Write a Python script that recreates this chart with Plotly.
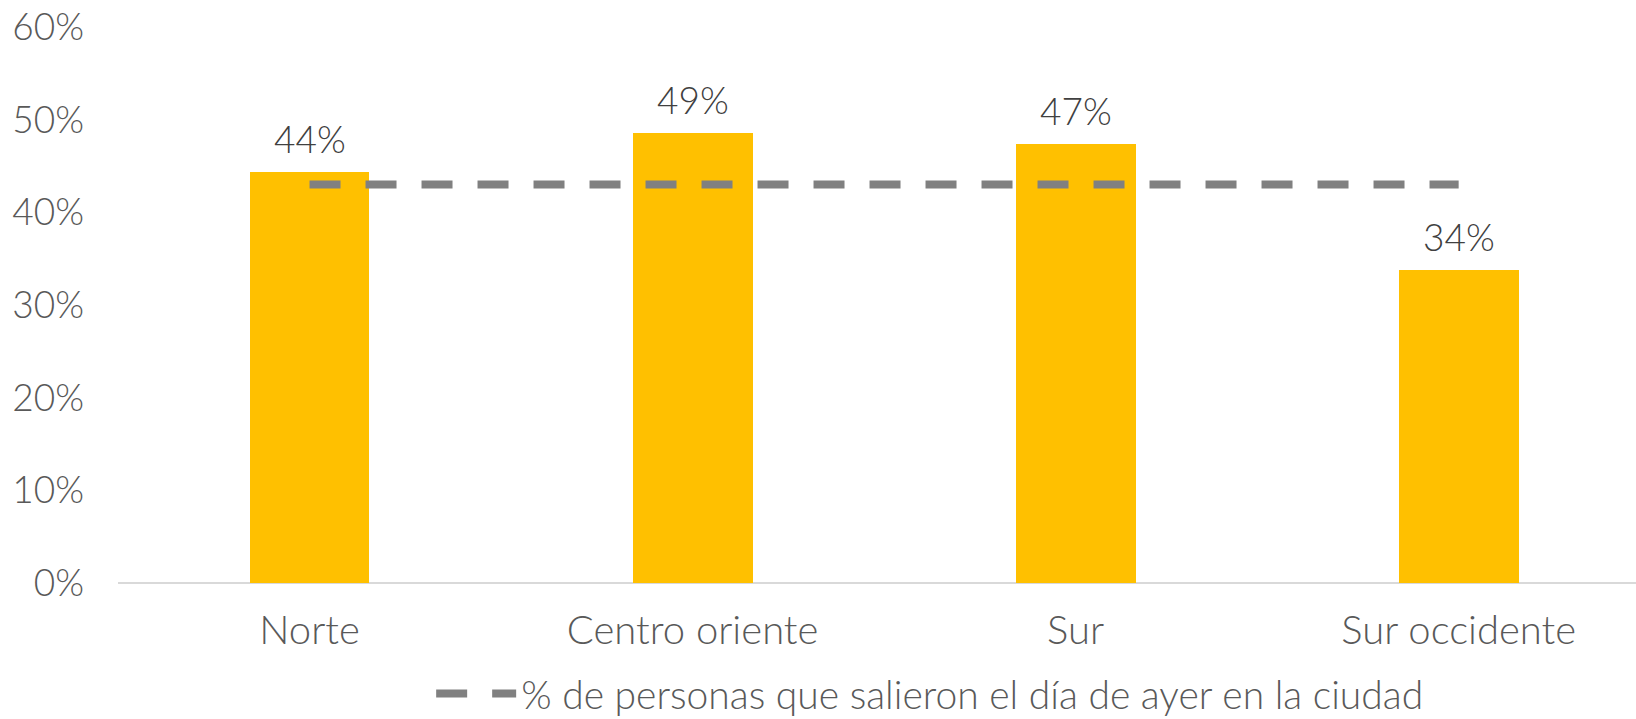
import plotly.graph_objects as go

categories = ["Norte", "Centro oriente", "Sur", "Sur occidente"]
bar_values = [0.444, 0.486, 0.474, 0.338]
line_values = [0.43, 0.43, 0.43, 0.43]
line_name = "% de personas que salieron el día de ayer en la ciudad"
y_ticks = [0, 0.1, 0.2, 0.3, 0.4, 0.5, 0.6]
y_tick_labels = ["0%", "10%", "20%", "30%", "40%", "50%", "60%"]

FONT = "Lato"
W = 300
x_idx = list(range(len(categories)))

fig = go.Figure()
fig.add_trace(go.Bar(
    x=x_idx, y=bar_values, marker=dict(color="#FFC000", line=dict(width=0)),
    width=0.313, showlegend=False, hoverinfo="skip",
))
fig.add_trace(go.Scatter(
    x=x_idx, y=line_values, mode="lines", name=line_name,
    line=dict(color="#808080", width=8, dash="31px,25px"),
))

for xi, v in zip(x_idx, bar_values):
    fig.add_annotation(x=xi, y=v, text=f"{round(v*100)}%", showarrow=False,
                       yanchor="bottom", yshift=9,
                       font=dict(family=FONT, size=37, color="#404040", weight=W))

fig.update_layout(
    width=1636, height=719,
    margin=dict(l=118, r=0, t=27, b=136, autoexpand=False),
    plot_bgcolor="white", paper_bgcolor="white",
    font=dict(family=FONT, size=37, color="#595959", weight=W),
    bargap=0,
    xaxis=dict(
        range=[-0.5, 3.463], tickmode="array", tickvals=x_idx, ticktext=categories,
        showgrid=False, zeroline=False, showline=False, ticks="", automargin=False,
        ticklabelstandoff=20,
        tickfont=dict(family=FONT, size=40, color="#595959", weight=W),
    ),
    yaxis=dict(
        range=[0, 0.6], tickmode="array", tickvals=y_ticks, ticktext=y_tick_labels,
        showgrid=False, zeroline=True, zerolinecolor="#D9D9D9", zerolinewidth=2,
        showline=False, ticks="", ticklabelstandoff=33, automargin=False,
        tickfont=dict(family=FONT, size=37, color="#595959", weight=W),
    ),
    legend=dict(orientation="h", x=0.2063, xanchor="left", y=-0.199, yanchor="middle",
                itemwidth=80, tracegroupgap=0,
                font=dict(family=FONT, size=39, color="#595959", weight=W),
                bgcolor="rgba(0,0,0,0)"),
)

fig.write_html("out.html", config={"displayModeBar": False},
               post_script="document.body.style.margin='0';document.body.style.padding='0';")
